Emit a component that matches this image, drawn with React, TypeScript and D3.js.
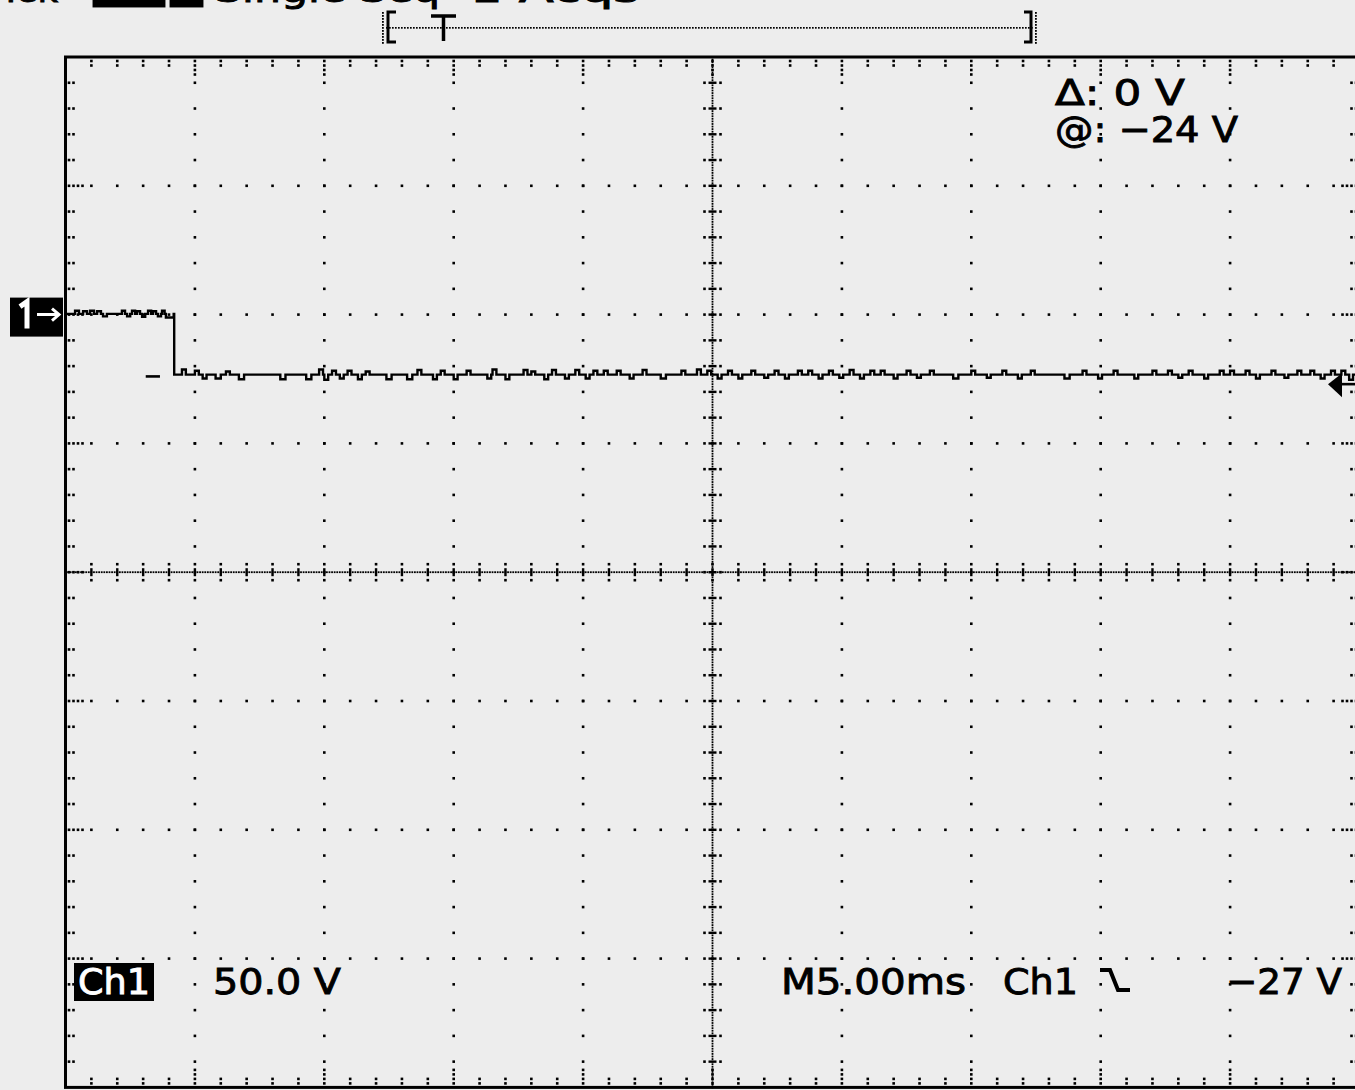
import React from "react";
import * as d3 from "d3";

// ---- data ----
const timeDomainMs = [0, 50]; // M5.00ms per division, 10 divisions
const voltDomain = [-300, 100]; // 50.0 V/div, 8 divisions, ground 2 div above centre
const levelTimes = [0, 4.2];
const levelValues = [0.3, -23.3];
// glitches: [time ms, delta V, duration ms]
const preGlitches: [number, number, number][] = [
  [0.37, 1.2, 0.15], [0.68, 1.0, 0.15], [0.95, 1.2, 0.15], [1.22, 1.0, 0.15], [1.45, -1.0, 0.15],
  [2.18, 1.2, 0.12], [2.38, -1.0, 0.12], [2.57, 1.2, 0.12], [2.76, 1.0, 0.12], [2.96, -1.2, 0.12],
  [3.19, 1.2, 0.12], [3.38, 1.0, 0.12], [3.57, -1.0, 0.12], [3.73, 1.2, 0.1], [3.88, -1.4, 0.3],
];
const postGlitches: [number, number, number][] = [
  [4.5, 2.0, 0.15], [5.0, 1.5, 0.15], [5.3, -1.5, 0.15], [5.8, -1.5, 0.2], [6.2, 1.2, 0.15], [6.7, -1.8, 0.2],
  [8.3, -1.8, 0.2], [9.3, -1.8, 0.2], [9.8, 2.0, 0.15], [10.0, -2.0, 0.15], [10.3, 1.5, 0.15], [10.6, -1.5, 0.15],
  [10.9, 1.5, 0.15], [11.3, -1.8, 0.15], [11.6, 1.2, 0.15], [12.4, -1.8, 0.2], [13.2, -1.8, 0.2], [13.6, 1.8, 0.15],
  [14.2, -1.8, 0.15], [14.5, 1.5, 0.15], [15.0, -1.8, 0.15], [15.5, 1.5, 0.15], [16.3, -1.5, 0.15], [16.5, 2.0, 0.15],
  [17.0, -1.8, 0.15], [17.7, 1.8, 0.15], [18.0, 1.2, 0.15], [18.5, -1.8, 0.15], [18.8, 1.8, 0.15], [19.3, -1.5, 0.15],
  [19.7, 1.8, 0.15], [20.1, -1.5, 0.15], [20.4, 1.5, 0.15], [20.8, 1.5, 0.15], [21.3, 1.5, 0.15], [21.8, -1.5, 0.15],
  [22.3, 1.8, 0.15], [23.0, -1.5, 0.2], [23.8, 1.5, 0.15], [24.4, 2.0, 0.15], [24.8, 1.5, 0.15], [25.2, -1.5, 0.15],
  [25.6, 1.5, 0.15], [26.0, -1.5, 0.15], [26.5, 1.5, 0.15], [27.0, -1.2, 0.15], [27.4, 1.5, 0.15], [27.8, -1.5, 0.15],
  [28.3, 1.5, 0.15], [28.7, 1.5, 0.15], [29.1, -1.5, 0.15], [29.5, 1.5, 0.15], [29.9, -1.2, 0.15], [30.3, 1.8, 0.15],
  [30.7, -1.5, 0.15], [31.1, 1.5, 0.15], [31.5, 1.5, 0.15], [32.0, -1.5, 0.15], [32.5, 1.5, 0.15], [32.9, -1.2, 0.15],
  [33.4, 1.5, 0.15], [34.3, -1.5, 0.2], [35.0, 1.5, 0.15], [35.6, -1.2, 0.15], [36.2, 1.5, 0.15], [36.8, -1.5, 0.15],
  [37.3, 1.5, 0.15], [38.6, -1.5, 0.2], [39.3, 1.5, 0.15], [39.9, -1.5, 0.15], [40.5, 1.5, 0.15], [41.3, -1.5, 0.15],
  [42.0, 1.5, 0.15], [42.6, 1.5, 0.15], [43.0, -1.2, 0.15], [43.4, 1.5, 0.15], [44.0, -1.5, 0.15], [44.6, 1.5, 0.15],
  [45.0, 1.5, 0.15], [45.6, 1.5, 0.15], [46.0, -1.5, 0.15], [46.6, 1.5, 0.15], [47.1, -1.2, 0.15], [47.6, 1.5, 0.15],
  [48.1, 1.5, 0.15], [48.5, -1.5, 0.15], [48.9, 1.5, 0.15], [49.3, 1.5, 0.15], [49.6, -2.0, 0.15],
];
const triggerLevelV = -27;
const cursorV = -24;
const cursorMarkTimes = [3.1, 3.65];
const readoutTopLines = ["\u0394: 0 V", "@: \u221224 V"];
const scaleLabel = "50.0 V";
const timebaseLabel = "M5.00ms";
const triggerLabel = "\u221227 V";
const statusWords = ["Tek", "Single Seq", "1 Acqs"];

const X0 = 65.5, DX = 129.4, Y0 = 57, DY = 128.8;

export default function App() {
  const x = d3.scaleLinear().domain(timeDomainMs).range([X0, X0 + 10 * DX]);
  const y = d3.scaleLinear().domain(voltDomain).range([Y0 + 8 * DY, Y0]);
  const xMid = x(25), yMid = y(-100);

  const pts: [number, number][] = [];
  const addSeg = (t0: number, t1: number, base: number, gl: [number, number, number][]) => {
    pts.push([t0, base]);
    gl.forEach(([t, dv, dur]) => {
      pts.push([t, base], [t, base + dv], [t + dur, base + dv], [t + dur, base]);
    });
    pts.push([t1, base]);
  };
  addSeg(levelTimes[0], levelTimes[1], levelValues[0], preGlitches);
  addSeg(levelTimes[1], timeDomainMs[1], levelValues[1], postGlitches);
  const line = d3.line<[number, number]>().x((d) => x(d[0])).y((d) => y(d[1]));

  const dots: JSX.Element[] = [];
  const dot = (cx: number, cy: number, k: string) =>
    dots.push(<rect key={k} x={cx - 1.3} y={cy - 1.3} width={2.6} height={2.6} fill="#000" />);

  for (let i = 1; i < 10; i++) {
    if (i === 5) continue;
    for (let k = 1; k < 40; k++) dot(X0 + i * DX, Y0 + (k * DY) / 5, `v${i}-${k}`);
  }
  for (let j = 1; j < 8; j++) {
    if (j === 4) continue;
    for (let m = 1; m < 50; m++) dot(X0 + (m * DX) / 5, Y0 + j * DY, `h${j}-${m}`);
  }
  for (let m = 1; m < 50; m++) {
    const px = X0 + (m * DX) / 5;
    const n = m % 5 === 0 ? 4 : 2;
    for (let q = 0; q < n; q++) {
      dot(px, Y0 + 4 + q * 4.5, `tt${m}-${q}`);
      dot(px, Y0 + 8 * DY - 4 - q * 4.5, `tb${m}-${q}`);
    }
  }
  for (let k = 1; k < 40; k++) {
    const py = Y0 + (k * DY) / 5;
    const n = k % 5 === 0 ? 4 : 2;
    for (let q = 0; q < n; q++) {
      dot(X0 + 3.5 + q * 4.5, py, `tl${k}-${q}`);
      dot(X0 + 10 * DX - 3.5 - q * 4.5, py, `tr${k}-${q}`);
    }
  }
  const cdots: JSX.Element[] = [];
  for (let s = 0; s <= 500; s++) cdots.push(<rect key={`ch${s}`} x={X0 + (s * DX) / 50 - 0.9} y={yMid - 0.9} width={1.8} height={1.8} fill="#000" />);
  for (let s = 0; s <= 400; s++) cdots.push(<rect key={`cv${s}`} x={xMid - 0.9} y={Y0 + (s * DY) / 50 - 0.9} width={1.8} height={1.8} fill="#000" />);
  const cticks: JSX.Element[] = [];
  for (let m = 1; m < 50; m++) {
    const px = X0 + (m * DX) / 5;
    cticks.push(<rect key={`cth${m}`} x={px - 1.2} y={yMid - 4} width={2.4} height={8} fill="#000" />);
    dot(px, yMid - 8, `ctu${m}`);
    dot(px, yMid + 8, `ctd${m}`);
  }
  for (let k = 1; k < 40; k++) {
    const py = Y0 + (k * DY) / 5;
    cticks.push(<rect key={`ctv${k}`} x={xMid - 4} y={py - 1.2} width={8} height={2.4} fill="#000" />);
    dot(xMid - 8, py, `ctl${k}`);
    dot(xMid + 8, py, `ctr${k}`);
  }

  const font = "'DejaVu Sans', sans-serif";
  const gy = y(0);
  const ty = y(triggerLevelV);

  const bracketDots: JSX.Element[] = [];
  for (let bx = 386; bx <= 1031; bx += 3) bracketDots.push(<rect key={`bd${bx}`} x={bx} y={27} width={1.7} height={1.7} fill="#000" />);
  for (let by = 12; by <= 42; by += 3) {
    bracketDots.push(<rect key={`bl${by}`} x={382} y={by} width={1.8} height={1.8} fill="#000" />);
    bracketDots.push(<rect key={`br${by}`} x={1035} y={by} width={1.8} height={1.8} fill="#000" />);
  }

  const txt = { stroke: "#000", strokeWidth: 0.9 } as const;

  return (
    <svg width={1355} height={1090} style={{ position: "fixed", left: 0, top: 0, background: "#ededed" }}>
      <rect width={1355} height={1090} fill="#ededed" />
      {/* cut-off status line */}
      <g fontFamily={font} fontSize={34} fill="#000" {...txt}>
        <text x={0} y={2} textLength={58} lengthAdjust="spacingAndGlyphs">{statusWords[0]}</text>
        <rect x={93} y={-30} width={72} height={37} fill="#000" />
        <rect x={170} y={-30} width={33} height={37} fill="#000" />
        <text x={215} y={2} textLength={225} lengthAdjust="spacingAndGlyphs">{statusWords[1]}</text>
        <text x={470} y={2} textLength={170} lengthAdjust="spacingAndGlyphs">{statusWords[2]}</text>
      </g>
      {/* trigger position bracket */}
      {bracketDots}
      <path d="M396,12 H388 V42 H396" stroke="#000" strokeWidth={3} fill="none" />
      <path d="M1024,12 H1031 V42 H1024" stroke="#000" strokeWidth={3} fill="none" />
      <path d="M431,16 H456 M443.5,16 V41" stroke="#000" strokeWidth={3.5} fill="none" />

      {/* graticule */}
      {cdots}
      {dots}
      {cticks}
      <rect x={X0} y={Y0} width={10 * DX} height={8 * DY} fill="none" stroke="#000" strokeWidth={3} />

      {/* trace */}
      <path d={line(pts) || ""} fill="none" stroke="#000" strokeWidth={2.4} />
      <line x1={x(cursorMarkTimes[0])} x2={x(cursorMarkTimes[1])} y1={y(cursorV)} y2={y(cursorV)} stroke="#000" strokeWidth={2.6} />

      {/* channel ground marker */}
      <rect x={10} y={gy - 17} width={53} height={39} fill="#000" />
      <path d={`M20,${gy - 8} L27,${gy - 13} V${gy + 14}`} stroke="#fff" strokeWidth={5} fill="none" />
      <path d={`M37,${gy} H58 M52,${gy - 6} L59,${gy} L52,${gy + 6}`} stroke="#fff" strokeWidth={3} fill="none" />

      {/* trigger level marker */}
      <path d={`M1328,${ty} L1342,${ty - 11} L1342,${ty + 13} Z`} fill="#000" />
      <line x1={1340} x2={1355} y1={ty} y2={ty} stroke="#000" strokeWidth={2.6} />

      {/* readouts */}
      <g fontFamily={font} fontSize={36} fill="#000" {...txt}>
        <text x={1055} y={105} textLength={130} lengthAdjust="spacingAndGlyphs">{readoutTopLines[0]}</text>
        <text x={1055} y={142} textLength={183} lengthAdjust="spacingAndGlyphs">{readoutTopLines[1]}</text>
        <text x={213} y={994} textLength={128} lengthAdjust="spacingAndGlyphs">{scaleLabel}</text>
        <text x={781} y={994} textLength={185} lengthAdjust="spacingAndGlyphs">{timebaseLabel}</text>
        <text x={1003} y={994} textLength={75} lengthAdjust="spacingAndGlyphs">Ch1</text>
        <text x={1226} y={994} textLength={116} lengthAdjust="spacingAndGlyphs">{triggerLabel}</text>
      </g>
      <rect x={74} y={963} width={80} height={38} fill="#000" />
      <text x={78} y={994} fontFamily={font} fontSize={36} textLength={72} lengthAdjust="spacingAndGlyphs" fill="#fff" stroke="#fff" strokeWidth={0.9}>Ch1</text>
      <path d="M1100,970 H1110 L1118,990 H1130" stroke="#000" strokeWidth={4} fill="none" />
    </svg>
  );
}
